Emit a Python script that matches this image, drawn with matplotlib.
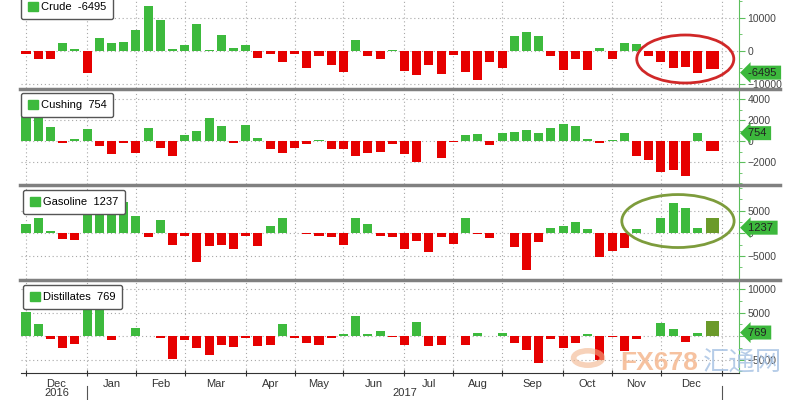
import matplotlib
matplotlib.use('Agg')
import matplotlib.pyplot as plt
import numpy as np
from matplotlib.patches import Patch, Ellipse, Circle
from matplotlib.lines import Line2D

# weekly changes (kb), Dec 2016 - Dec 2017; last bar is the wider "latest" bar
crude = [-800, -2250, -2250, 2350, 600, -6700, 4000, 2350, 2800, 6300,
         13500, 9300, 700, 1700, 8200, 200, 4900, 900, 1700, -2100,
         -1000, -3400, -1000, -5100, -1600, -4100, -6300, 3200, -1600, -2400,
         300, -6000, -7200, -4300, -6900, -1300, -6200, -8600, -3200, -5000,
         4400, 5800, 4500, -1600, -5800, -2500, -5600, 900, -2300, 2400,
         2000, -1500, -3200, -5200, -4700, -6495, -5500]
cushing = [2500, 2500, 1330, -190, 190, 1140, -480, -1200, -160, -1140,
           1240, -630, -1460, 540, 920, 2220, 1460, -190, 1490, 320,
           -730, -1140, -630, -320, 60, -730, -730, -1370, -1110, -1050,
           -250, -1200, -1940, -30, -1620, -50, 600, 700, -410, 760,
           860, 1080, 790, 1240, 1620, 1400, 220, -190, 60, 760,
           -1460, -1780, -2890, -2700, -3270, 754, -950]
gasoline = [2100, 3330, 500, -1230, -1450, 4500, 4500, 4800, 6800, 3900,
            -870, 2830, -2540, -500, -6300, -2900, -2680, -3550, -650, -2900,
            1520, 3330, 100, -100, -500, -870, -2680, 3330, 2100, -500,
            -870, -3400, -1600, -4130, -870, -2320, 3330, -100, -1010, 50,
            -3040, -8100, -1960, 1090, 1520, 2390, 940, -5200, -3900, -3190,
            940, 50, 3480, 6600, 5500, 1237, 3480]
distillates = [5070, 2500, -640, -2430, -1710, 6000, 6000, -860, 50, 1790,
               50, -500, -4790, -930, -2500, -4070, -1930, -2360, -500, -2070,
               -1930, 2640, -500, -1570, -1930, -360, 360, 4360, 360, 1070,
               -210, -1790, 3070, -2140, -1790, 30, -1790, 640, 50, 640,
               -1430, -3070, -5640, -710, -2500, -1430, 500, -5140, -210, -3210,
               -710, 100, 2710, 1570, -1210, 769, 3290]

names = ['Crude', 'Cushing', 'Gasoline', 'Distillates']
latest = ['-6495', '754', '1237', '769']

# first week of each month (bar index) and month labels
month_idx = [0, 5, 9, 13, 18, 22, 26, 31, 35, 39, 44, 48, 52, 57]
month_lbl = ['Dec', 'Jan', 'Feb', 'Mar', 'Apr', 'May', 'Jun',
             'Jul', 'Aug', 'Sep', 'Oct', 'Nov', 'Dec']

GREEN = '#3dba3d'
RED = '#e60000'
OLIVE = '#6b9a2a'
AXGREEN = '#5cbf5c'

plt.rcParams['font.family'] = ['Liberation Sans', 'DejaVu Sans']

W, H = 800, 400
fig = plt.figure(figsize=(8, 4), dpi=100)
L, R = 20.5, 739

# panel layout in pixels: top, bottom, ylim, yticks, minor step
layout = [
    (0, 88, (-11100, 15300), [-10000, 0, 10000], 5000),
    (91, 184, (-4075, 4760), [-2000, 0, 2000, 4000], 1000),
    (187, 279, (-10070, 10200), [-5000, 0, 5000], 2500),
    (282, 373, (-7880, 11570), [-5000, 0, 5000, 10000], 2500),
]
series = [crude, cushing, gasoline, distillates]
last_col = [RED, RED, OLIVE, OLIVE]
legend_pos = [(21, -5), (21, 93), (23, 190), (23, 285)]

axes = []
for k, (top, bot, ylim, yt, mstep) in enumerate(layout):
    ax = fig.add_axes([L / W, 1 - bot / H, (R - L) / W, (bot - top) / H])
    vals = series[k]
    xs = list(range(len(vals) - 1))
    cols = [GREEN if v >= 0 else RED for v in vals[:-1]]
    ax.bar(xs, vals[:-1], width=0.74, color=cols, zorder=2)
    ax.bar([56.2], [vals[-1]], width=1.07, color=last_col[k], zorder=2)

    ax.set_xlim(-0.45, 58.4)
    ax.set_xticks(month_idx)
    ax.set_yticks(yt)
    ax.set_yticks(np.arange(-20000, 20001, mstep), minor=True)
    ax.set_ylim(*ylim)
    ax.yaxis.tick_right()
    ax.tick_params(axis='y', which='both', colors=AXGREEN, labelcolor='#444',
                   labelsize=7.5, direction='out', pad=2)
    ax.tick_params(axis='y', which='major', length=4)
    ax.tick_params(axis='y', which='minor', length=2)
    ax.grid(True, which='major', color='#a8a8a8', linestyle=(0, (1, 2.5)),
            linewidth=0.8, zorder=0)
    for s in ['top', 'left']:
        ax.spines[s].set_visible(False)
    ax.spines['right'].set_color(AXGREEN)
    if k < 3:
        ax.spines['bottom'].set_visible(False)
        ax.tick_params(axis='x', length=0, labelbottom=False)
    else:
        ax.spines['bottom'].set_color('#333')
        ax.tick_params(axis='x', which='major', length=4, direction='inout',
                       color='#333', labelbottom=False)
        mids = [(month_idx[i] + month_idx[i + 1]) / 2 for i in range(len(month_lbl))]
        ax.set_xticks(mids, minor=True)
        ax.set_xticklabels(month_lbl, minor=True)
        ax.tick_params(axis='x', which='minor', length=0, pad=4,
                       labelsize=8, labelcolor='#333')
        trans = ax.get_xaxis_transform()
        ax.text(2.5, -0.215, '2016', transform=trans, ha='center', va='center',
                fontsize=8, color='#333')
        ax.text(31, -0.215, '2017', transform=trans, ha='center', va='center',
                fontsize=8, color='#333')
        for xv in [5, 57]:
            ax.plot([xv, xv], [-0.143, -0.3], transform=trans, color='#555',
                    lw=0.8, clip_on=False)

    # legend box
    lx, ly = legend_pos[k]
    leg = ax.legend(handles=[Patch(color=GREEN)],
                    labels=[names[k] + '  ' + latest[k]],
                    loc='upper left',
                    bbox_to_anchor=((lx - L) / (R - L), 1 - (ly - top) / (bot - top)),
                    borderaxespad=0, fontsize=8, handlelength=0.9,
                    handleheight=0.9, handletextpad=0.3, borderpad=0.6,
                    fancybox=True, framealpha=1, edgecolor='#555')
    leg.get_frame().set_linewidth(1)
    leg.set_zorder(5)

    # latest value tag on the right axis
    ax.text(1.012, float(latest[k]), latest[k] + ' ', transform=ax.get_yaxis_transform(),
            ha='left', va='center', fontsize=8, color='#222', zorder=6,
            bbox=dict(boxstyle='larrow,pad=0.18', fc='#3cb83c', ec='none'))
    axes.append(ax)

# highlight ellipses
axes[0].add_patch(Ellipse((54.0, -2400), 7.95, 14400, fill=False,
                          ec='#d02828', lw=2, clip_on=False, zorder=4))
axes[2].add_patch(Ellipse((53.4, 2700), 9.2, 11670, fill=False,
                          ec='#7d9c3c', lw=2, clip_on=False, zorder=4))

# gray separators between panels
for yp in [89, 185, 280]:
    fig.add_artist(Line2D([20 / W, 780 / W], [1 - yp / H, 1 - yp / H],
                          color='#808080', lw=2.5))

# watermark
fig.add_artist(Circle((588 / W, 1 - 358 / H), 0.018, transform=fig.transFigure,
                      fill=False, ec='#f2b48c', lw=4, alpha=0.6))
fig.text(620 / W, 1 - 363 / H, 'FX678', color='#f5b890', fontsize=19,
         fontweight='bold', va='center', alpha=0.85)
fig.text(703 / W, 1 - 363 / H, '汇通网', color='#a9c4e4', fontsize=19,
         family=['Noto Sans CJK SC', 'DejaVu Sans'], va='center', alpha=0.85)

fig.savefig('out.png', dpi=100, facecolor='white')
